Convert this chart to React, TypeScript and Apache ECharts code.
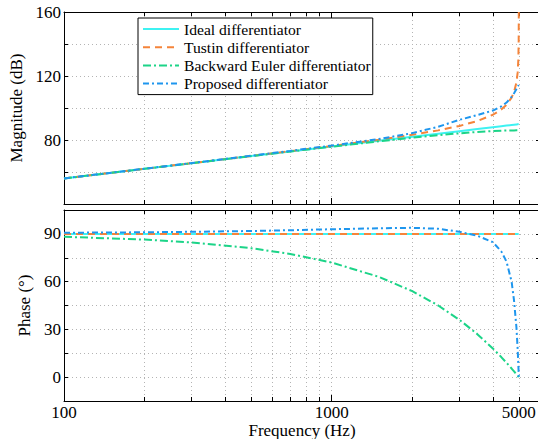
import React, { useEffect, useRef } from 'react';
import * as echarts from 'echarts';

const FONT = 'Liberation Serif';

// Frequency points (Hz) of the tabulated responses
const freqHz = [100, 200, 300, 500, 700, 1000, 1500, 2000, 2500, 3000, 3500, 4000, 4300, 4500, 4700, 4800, 4900, 4950, 4980, 4995, 5000];

// Magnitude responses (dB)
const magIdeal = [55.96, 61.98, 65.5, 69.94, 72.86, 75.96, 79.48, 81.98, 83.92, 85.5, 86.84, 88.0, 88.63, 89.03, 89.4, 89.58, 89.76, 89.85, 89.9, 89.93, 89.94];
const magTustin = [55.97, 62.0, 65.53, 70.01, 73.01, 76.26, 80.16, 83.25, 86.02, 88.8, 91.88, 95.79, 99.03, 102.03, 106.51, 110.05, 116.07, 122.1, 130.06, 142.1, 160];
const magBackward = [55.96, 61.98, 65.49, 69.91, 72.8, 75.82, 79.16, 81.41, 83.01, 84.18, 85.02, 85.58, 85.81, 85.91, 85.98, 85.99, 86.02, 86.02, 86.02, 86.02, 86.02];
const magProposed = [56.0, 62.05, 65.6, 70.15, 73.2, 76.5, 80.6, 84.3, 88.3, 92.6, 95.6, 98.4, 101.0, 103.4, 107.0, 109.2, 111.8, 113.2, 114.0, 114.4, 114.5];

// Phase responses (degrees)
const phaseIdeal = [90, 90, 90, 90, 90, 90, 90, 90, 90, 90, 90, 90, 90, 90, 90, 90, 90, 90, 90, 90, 90];
const phaseTustin = [90, 90, 90, 90, 90, 90, 90, 90, 90, 90, 90, 90, 90, 90, 90, 90, 90, 90, 90, 90, 90];
const phaseBackward = [88.2, 86.4, 84.6, 81, 77.4, 72, 63, 54, 45, 36, 27, 18, 12.6, 9, 5.4, 3.6, 1.8, 0.9, 0.36, 0.09, 0];
const phaseProposed = [90.7, 91.0, 91.3, 91.8, 92.3, 92.9, 93.5, 93.8, 93.2, 91.3, 88.8, 84.8, 79.0, 72.5, 60.0, 48.0, 31.0, 18.0, 8.0, 2.0, 0];

// Axis ticks and labels
const freqMin = 100;
const freqMax = 6000;
const freqTicks = [200, 300, 400, 500, 600, 700, 800, 900, 1000, 2000, 3000, 4000, 5000];
const freqMajorTicks = [1000];
const freqLabels = [100, 1000, 5000];
const magLabels = [80, 120, 160];
const phaseLabels = [0, 30, 60, 90];

const seriesNames = ['Ideal differentiator', 'Tustin differentiator', 'Backward Euler differentiator', 'Proposed differentiator'];
const seriesColors = ['#3EF2F2', '#F5843A', '#1CD488', '#1E96EE'];
const seriesDash: any[] = ['solid', [7, 5], [8, 3, 2, 3], [6, 3, 2, 3]];

const lg = (f: number) => Math.log10(f);
const pairs = (ys: number[]) => freqHz.map((f, i) => [lg(f), ys[i]]);

const gridLine = { show: true, lineStyle: { color: '#b4b4b4', width: 1, type: [1, 3] as any } };
const axisLine = { show: true, onZero: false, lineStyle: { color: '#000', width: 1 } };
const tick = { show: true, inside: true, length: 4, lineStyle: { color: '#000', width: 1 } };
const txt = () => ({ fontFamily: FONT, fontSize: 17, color: '#000' });

// Per grid: x axis 0 bottom (with grid lines), 1 top, 2/3 longer major ticks
function xAxes(gridIndex: number, withLabels: boolean) {
  const base = {
    type: 'value',
    gridIndex,
    min: lg(freqMin),
    max: lg(freqMax),
    axisLine,
  };
  const majorTick = {
    ...base,
    axisLine: { show: false, onZero: false },
    axisTick: { ...tick, length: 6, customValues: freqMajorTicks.map(lg) },
    splitLine: { show: false },
    axisLabel: { show: false },
  };
  return [
    {
      ...base,
      position: 'bottom',
      axisTick: { ...tick, customValues: freqTicks.map(lg) },
      splitLine: gridLine,
      axisLabel: withLabels
        ? {
            show: true,
            customValues: freqLabels.map(lg),
            formatter: (v: number) => String(Math.round(Math.pow(10, v))),
            ...txt(),
            margin: 3,
          }
        : { show: false },
      name: withLabels ? 'Frequency (Hz)' : '',
      nameLocation: 'middle',
      nameGap: 17,
      nameTextStyle: txt(),
    },
    {
      ...base,
      position: 'top',
      axisTick: { ...tick, customValues: freqTicks.map(lg) },
      splitLine: { show: false },
      axisLabel: { show: false },
    },
    { ...majorTick, position: 'bottom' },
    { ...majorTick, position: 'top' },
  ];
}

function yAxes(gridIndex: number, min: number, max: number, interval: number, labels: number[], name: string, nameGap: number) {
  const base = { type: 'value', gridIndex, min, max, interval, axisLine };
  return [
    {
      ...base,
      position: 'left',
      axisTick: tick,
      splitLine: gridLine,
      axisLabel: { show: true, customValues: labels, ...txt(), margin: 3 },
      name,
      nameLocation: 'middle',
      nameGap,
      nameTextStyle: txt(),
    },
    {
      ...base,
      position: 'right',
      axisTick: tick,
      splitLine: { show: false },
      axisLabel: { show: false },
    },
  ];
}

function lineSeries(idx: number, ys: number[], gridIndex: number, z: number) {
  return {
    type: 'line',
    name: seriesNames[idx],
    data: pairs(ys),
    xAxisIndex: gridIndex * 4,
    yAxisIndex: gridIndex * 2,
    showSymbol: false,
    symbol: 'none',
    clip: true,
    z,
    color: seriesColors[idx],
    itemStyle: { color: seriesColors[idx], opacity: 0 },
    lineStyle: { color: seriesColors[idx], width: 2, type: seriesDash[idx] },
  };
}

export default function App() {
  const ref = useRef<HTMLDivElement>(null);

  useEffect(() => {
    if (!ref.current) return;
    const chart = echarts.init(ref.current, undefined, { renderer: 'svg' });
    chart.setOption({
      animation: false,
      backgroundColor: '#fff',
      grid: [
        { left: 64, top: 12, width: 476, height: 192, outerBoundsMode: 'none', containLabel: false },
        { left: 64, top: 210, width: 476, height: 191, outerBoundsMode: 'none', containLabel: false },
      ],
      xAxis: [...xAxes(0, false), ...xAxes(1, true)],
      yAxis: [
        ...yAxes(0, 40, 160, 20, magLabels, 'Magnitude (dB)', 38),
        ...yAxes(1, -15, 105, 15, phaseLabels, 'Phase (\u00b0)', 30),
      ],
      legend: {
        show: true,
        orient: 'vertical',
        left: 138,
        top: 18,
        data: seriesNames,
        itemWidth: 36,
        itemHeight: 16,
        itemGap: 2.2,
        padding: [3, 2, 3, 4],
        borderColor: '#000',
        borderWidth: 1,
        borderRadius: 0,
        backgroundColor: '#fff',
        selectedMode: false,
        itemStyle: { opacity: 0 },
        textStyle: { fontFamily: FONT, fontSize: 15.6, color: '#000', lineHeight: 16 },
        z: 10,
      },
      series: [
        lineSeries(0, magIdeal, 0, 2),
        lineSeries(1, magTustin, 0, 3),
        lineSeries(2, magBackward, 0, 4),
        lineSeries(3, magProposed, 0, 5),
        lineSeries(0, phaseIdeal, 1, 2),
        lineSeries(1, phaseTustin, 1, 3),
        lineSeries(2, phaseBackward, 1, 4),
        lineSeries(3, phaseProposed, 1, 5),
      ],
    });
    return () => chart.dispose();
  }, []);

  return (
    <div
      ref={ref}
      style={{ position: 'absolute', left: 0, top: 0, width: 538, height: 439, background: '#fff' }}
    />
  );
}
